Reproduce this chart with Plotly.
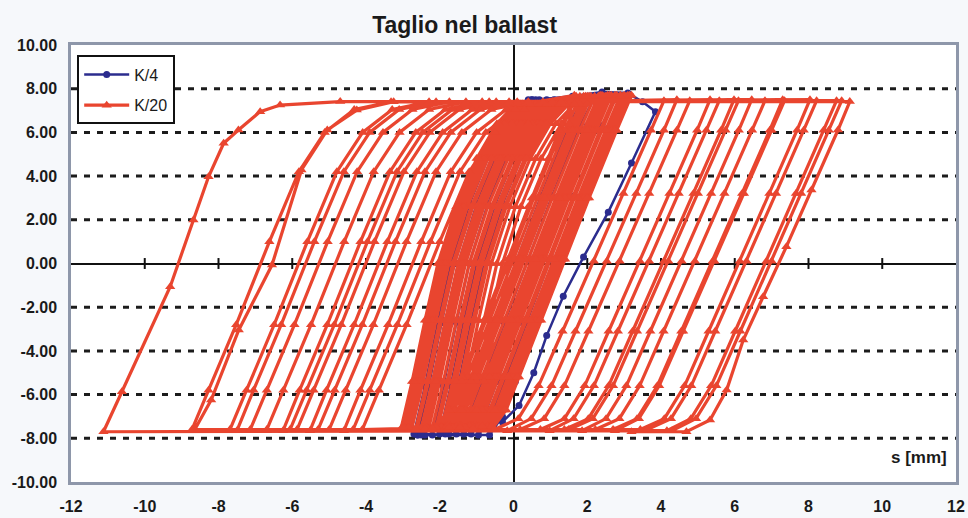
import plotly.graph_objects as go

# ---------------------------------------------------------------------------
# Shear force F [kN] vs. displacement s [mm] in the ballast layer
# Two test series: K/4 and K/20 (continuous load histories, cycle by cycle)
# ---------------------------------------------------------------------------

# K/4 series
k4_s = [
    -1.8, -1.5, -1.15, -0.8, -0.3, 0.25, 0.8, 1.3, 2.0, 1.6, 0.85, 0.2, -0.45, -1.05, -1.4, -1.75,
    -2.2, -1.9, -1.55, -1.2, -0.7, -0.15, 0.4, 0.9, 2.4, 2.0, 1.25, 0.6, -0.05, -0.65, -1.0, -1.35,
    -2.6, -2.3, -1.95, -1.6, -1.1, -0.55, 0.0, 0.5, 1.9, 1.5, 0.75, 0.1, -0.55, -1.15, -1.5, -1.85,
    -2.0, -1.7, -1.35, -1.0, -0.5, 0.05, 0.6, 1.1, 2.8, 2.4, 1.65, 1.0, 0.35, -0.25, -0.6, -0.95,
    -2.6, -2.3, -1.95, -1.6, -1.1, -0.55, 0.0, 0.5, 2.6, 2.2, 1.45, 0.8, 0.15, -0.45, -0.8, -1.15,
    -2.4, -2.1, -1.75, -1.4, -0.9, -0.35, 0.2, 0.7, 3.1, 2.7, 1.95, 1.3, 0.65, 0.05, -0.3, -0.65,
    -2.7, -2.4, -2.05, -1.7, -1.2, -0.65, -0.1, 0.4, 2.2, 1.8, 1.05, 0.4, -0.25, -0.85, -1.2, -1.55,
    -2.5, -2.2, -1.85, -1.5, -1.0, -0.45, 0.1, 0.6, 1.6, 2.4, 3.1, 3.5, 3.85,
    3.2, 2.57, 1.9, 1.35, 0.9, 0.55, 0.15, -0.3,
]
k4_f = [
    -7.6, -5.6, -2.7, 0.0, 2.7, 5.0, 6.7, 7.5, 7.65, 6.3, 3.1, 0.2, -2.7, -5.4, -7.0, -7.8,
    -7.85, -5.6, -2.7, 0.0, 2.7, 5.0, 6.7, 7.5, 7.65, 6.3, 3.1, 0.2, -2.7, -5.4, -7.0, -7.8,
    -7.85, -5.6, -2.7, 0.0, 2.7, 5.0, 6.7, 7.5, 7.6, 6.3, 3.1, 0.2, -2.7, -5.4, -7.0, -7.8,
    -7.8, -5.6, -2.7, 0.0, 2.7, 5.0, 6.7, 7.5, 7.65, 6.3, 3.1, 0.2, -2.7, -5.4, -7.0, -7.85,
    -7.85, -5.6, -2.7, 0.0, 2.7, 5.0, 6.7, 7.5, 7.6, 6.3, 3.1, 0.2, -2.7, -5.4, -7.0, -7.8,
    -7.85, -5.6, -2.7, 0.0, 2.7, 5.0, 6.7, 7.5, 7.65, 6.3, 3.1, 0.2, -2.7, -5.4, -7.0, -7.85,
    -7.8, -5.6, -2.7, 0.0, 2.7, 5.0, 6.7, 7.5, 7.6, 6.3, 3.1, 0.2, -2.7, -5.4, -7.0, -7.8,
    -7.85, -5.6, -2.7, 0.0, 2.7, 5.0, 6.7, 7.5, 7.65, 7.85, 7.8, 7.4, 6.95,
    4.6, 2.35, 0.3, -1.5, -3.3, -5.0, -6.5, -7.25,
]

# K/20 series - small central cycles
k20_core_s = [
    -1.6, -1.3, -0.95, -0.6, -0.1, 0.45, 1.0, 1.5, 1.9, 1.5, 0.75, 0.1, -0.55, -1.15, -1.5, -1.85,
    -2.05, -1.75, -1.4, -1.05, -0.55, 0.0, 0.55, 1.05, 2.35, 1.95, 1.2, 0.55, -0.1, -0.7, -1.05, -1.4,
    -2.3, -2.0, -1.65, -1.3, -0.8, -0.25, 0.3, 0.8, 1.7, 1.3, 0.55, -0.1, -0.75, -1.35, -1.7, -2.05,
    -2.45, -2.15, -1.8, -1.45, -0.95, -0.4, 0.15, 0.65, 2.6, 2.2, 1.45, 0.8, 0.15, -0.45, -0.8, -1.15,
    -1.9, -1.6, -1.25, -0.9, -0.4, 0.15, 0.7, 1.2, 2.2, 1.8, 1.05, 0.4, -0.25, -0.85, -1.2, -1.55,
    -2.75, -2.45, -2.1, -1.75, -1.25, -0.7, -0.15, 0.35, 2.9, 2.5, 1.75, 1.1, 0.45, -0.15, -0.5, -0.85,
    -2.2, -1.9, -1.55, -1.2, -0.7, -0.15, 0.4, 0.9, 1.8, 1.4, 0.65, 0.0, -0.65, -1.25, -1.6, -1.95,
    -2.9, -2.6, -2.25, -1.9, -1.4, -0.85, -0.3, 0.2, 3.1, 2.7, 1.95, 1.3, 0.65, 0.05, -0.3, -0.65,
    -2.6, -2.3, -1.95, -1.6, -1.1, -0.55, 0.0, 0.5, 2.45, 2.05, 1.3, 0.65, 0.0, -0.6, -0.95, -1.3,
    -1.75, -1.45, -1.1, -0.75, -0.25, 0.3, 0.85, 1.35, 2.75, 2.35, 1.6, 0.95, 0.3, -0.3, -0.65, -1.0,
    -3.05, -2.75, -2.4, -2.05, -1.55, -1.0, -0.45, 0.05, 2.05, 1.65, 0.9, 0.25, -0.4, -1.0, -1.35, -1.7,
    -2.35, -2.05, -1.7, -1.35, -0.85, -0.3, 0.25, 0.75, 3.2, 2.8, 2.05, 1.4, 0.75, 0.15, -0.2, -0.55,
    -1.95, -1.65, -1.3, -0.95, -0.45, 0.1, 0.65, 1.15, 2.5, 2.1, 1.35, 0.7, 0.05, -0.55, -0.9, -1.25,
    -2.8, -2.5, -2.15, -1.8, -1.3, -0.75, -0.2, 0.3, 1.65, 1.25, 0.5, -0.15, -0.8, -1.4, -1.75, -2.1,
    -2.5, -2.2, -1.85, -1.5, -1.0, -0.45, 0.1, 0.6, 2.95, 2.55, 1.8, 1.15, 0.5, -0.1, -0.45, -0.8,
    -2.1, -1.8, -1.45, -1.1, -0.6, -0.05, 0.5, 1.0, 2.65, 2.25, 1.5, 0.85, 0.2, -0.4, -0.75, -1.1,
    -2.65, -2.35, -2.0, -1.65, -1.15, -0.6, -0.05, 0.45, 2.3, 1.9, 1.15, 0.5, -0.15, -0.75, -1.1, -1.45,
    -1.85, -1.55, -1.2, -0.85, -0.35, 0.2, 0.75, 1.25, 3.0, 2.6, 1.85, 1.2, 0.55, -0.05, -0.4, -0.75,
    -2.95, -2.65, -2.3, -1.95, -1.45, -0.9, -0.35, 0.15, 1.95, 1.55, 0.8, 0.15, -0.5, -1.1, -1.45, -1.8,
    -2.4, -2.1, -1.75, -1.4, -0.9, -0.35, 0.2, 0.7, 2.8, 2.4, 1.65, 1.0, 0.35, -0.25, -0.6, -0.95,
    -1.7, -1.4, -1.05, -0.7, -0.2, 0.35, 0.9, 1.4, 2.1, 1.7, 0.95, 0.3, -0.35, -0.95, -1.3, -1.65,
    -2.85, -2.55, -2.2, -1.85, -1.35, -0.8, -0.25, 0.25, 2.55, 2.15, 1.4, 0.75, 0.1, -0.5, -0.85, -1.2,
    -2.2, -1.9, -1.55, -1.2, -0.7, -0.15, 0.4, 0.9, 3.05, 2.65, 1.9, 1.25, 0.6, 0.0, -0.35, -0.7,
    -3.0, -2.7, -2.35, -2.0, -1.5, -0.95, -0.4, 0.1, 2.4, 2.0, 1.25, 0.6, -0.05, -0.65, -1.0, -1.35,
    -1.3, -1.0, -0.65, -0.3, 0.2, 0.75, 1.3, 1.8, 2.9, 2.5, 1.75, 1.1, 0.45, -0.15, -0.5, -0.85,
    -1.1, -0.8, -0.45, -0.1, 0.4, 0.95, 1.5, 2.0, 3.15, 2.75, 2.0, 1.35, 0.7, 0.1, -0.25, -0.6,
    -1.45, -1.15, -0.8, -0.45, 0.05, 0.6, 1.15, 1.65, 2.0, 1.6, 0.85, 0.2, -0.45, -1.05, -1.4, -1.75,
]
k20_core_f = [
    -7.5, -5.4, -2.6, 0.0, 2.6, 4.8, 6.4, 7.3, 7.65, 6.1, 3.0, 0.2, -2.6, -5.2, -6.7, -7.45,
    -7.5, -5.4, -2.6, 0.0, 2.6, 4.8, 6.4, 7.3, 7.7, 6.1, 3.0, 0.2, -2.6, -5.2, -6.7, -7.45,
    -7.55, -5.4, -2.6, 0.0, 2.6, 4.8, 6.4, 7.3, 7.65, 6.1, 3.0, 0.2, -2.6, -5.2, -6.7, -7.5,
    -7.5, -5.4, -2.6, 0.0, 2.6, 4.8, 6.4, 7.3, 7.7, 6.1, 3.0, 0.2, -2.6, -5.2, -6.7, -7.45,
    -7.55, -5.4, -2.6, 0.0, 2.6, 4.8, 6.4, 7.3, 7.65, 6.1, 3.0, 0.2, -2.6, -5.2, -6.7, -7.45,
    -7.5, -5.4, -2.6, 0.0, 2.6, 4.8, 6.4, 7.3, 7.7, 6.1, 3.0, 0.2, -2.6, -5.2, -6.7, -7.5,
    -7.5, -5.4, -2.6, 0.0, 2.6, 4.8, 6.4, 7.3, 7.65, 6.1, 3.0, 0.2, -2.6, -5.2, -6.7, -7.45,
    -7.55, -5.4, -2.6, 0.0, 2.6, 4.8, 6.4, 7.3, 7.7, 6.1, 3.0, 0.2, -2.6, -5.2, -6.7, -7.45,
    -7.5, -5.4, -2.6, 0.0, 2.6, 4.8, 6.4, 7.3, 7.65, 6.1, 3.0, 0.2, -2.6, -5.2, -6.7, -7.5,
    -7.5, -5.4, -2.6, 0.0, 2.6, 4.8, 6.4, 7.3, 7.7, 6.1, 3.0, 0.2, -2.6, -5.2, -6.7, -7.45,
    -7.55, -5.4, -2.6, 0.0, 2.6, 4.8, 6.4, 7.3, 7.65, 6.1, 3.0, 0.2, -2.6, -5.2, -6.7, -7.45,
    -7.5, -5.4, -2.6, 0.0, 2.6, 4.8, 6.4, 7.3, 7.7, 6.1, 3.0, 0.2, -2.6, -5.2, -6.7, -7.5,
    -7.5, -5.4, -2.6, 0.0, 2.6, 4.8, 6.4, 7.3, 7.65, 6.1, 3.0, 0.2, -2.6, -5.2, -6.7, -7.45,
    -7.55, -5.4, -2.6, 0.0, 2.6, 4.8, 6.4, 7.3, 7.7, 6.1, 3.0, 0.2, -2.6, -5.2, -6.7, -7.45,
    -7.5, -5.4, -2.6, 0.0, 2.6, 4.8, 6.4, 7.3, 7.65, 6.1, 3.0, 0.2, -2.6, -5.2, -6.7, -7.5,
    -7.5, -5.4, -2.6, 0.0, 2.6, 4.8, 6.4, 7.3, 7.7, 6.1, 3.0, 0.2, -2.6, -5.2, -6.7, -7.45,
    -7.55, -5.4, -2.6, 0.0, 2.6, 4.8, 6.4, 7.3, 7.65, 6.1, 3.0, 0.2, -2.6, -5.2, -6.7, -7.45,
    -7.5, -5.4, -2.6, 0.0, 2.6, 4.8, 6.4, 7.3, 7.7, 6.1, 3.0, 0.2, -2.6, -5.2, -6.7, -7.5,
    -7.5, -5.4, -2.6, 0.0, 2.6, 4.8, 6.4, 7.3, 7.65, 6.1, 3.0, 0.2, -2.6, -5.2, -6.7, -7.45,
    -7.55, -5.4, -2.6, 0.0, 2.6, 4.8, 6.4, 7.3, 7.7, 6.1, 3.0, 0.2, -2.6, -5.2, -6.7, -7.45,
    -7.5, -5.4, -2.6, 0.0, 2.6, 4.8, 6.4, 7.3, 7.65, 6.1, 3.0, 0.2, -2.6, -5.2, -6.7, -7.5,
    -7.5, -5.4, -2.6, 0.0, 2.6, 4.8, 6.4, 7.3, 7.7, 6.1, 3.0, 0.2, -2.6, -5.2, -6.7, -7.45,
    -7.55, -5.4, -2.6, 0.0, 2.6, 4.8, 6.4, 7.3, 7.65, 6.1, 3.0, 0.2, -2.6, -5.2, -6.7, -7.45,
    -7.5, -5.4, -2.6, 0.0, 2.6, 4.8, 6.4, 7.3, 7.7, 6.1, 3.0, 0.2, -2.6, -5.2, -6.7, -7.5,
    -7.5, -5.4, -2.6, 0.0, 2.6, 4.8, 6.4, 7.3, 7.65, 6.1, 3.0, 0.2, -2.6, -5.2, -6.7, -7.45,
    -7.55, -5.4, -2.6, 0.0, 2.6, 4.8, 6.4, 7.3, 7.7, 6.1, 3.0, 0.2, -2.6, -5.2, -6.7, -7.45,
    -7.5, -5.4, -2.6, 0.0, 2.6, 4.8, 6.4, 7.3, 7.65, 6.1, 3.0, 0.2, -2.6, -5.2, -6.7, -7.5,
]

# K/20 series - growing cycles
k20_mid_s = [
    -4.1, -3.65, -2.9, -2.0, -1.2, -0.5, 0.3, 1.3, 4.08, 3.73, 2.98, 2.18, 1.33, 0.68, 0.13, -0.52,
    -4.35, -3.9, -3.15, -2.25, -1.45, -0.75, 0.05, 1.05, 4.43, 4.08, 3.33, 2.53, 1.68, 1.03, 0.48, -0.17,
    -4.6, -4.15, -3.4, -2.5, -1.7, -1.0, -0.2, 0.8, 4.78, 4.43, 3.68, 2.88, 2.03, 1.38, 0.83, 0.18,
    -5.0, -4.55, -3.8, -2.9, -2.1, -1.4, -0.6, 0.4, 5.33, 4.98, 4.23, 3.43, 2.58, 1.93, 1.38, 0.73,
    -5.3, -4.85, -4.1, -3.2, -2.4, -1.7, -0.9, 0.1, 5.58, 5.23, 4.48, 3.68, 2.83, 2.18, 1.63, 0.98,
    -5.52, -5.07, -4.32, -3.42, -2.62, -1.92, -1.12, -0.12, 5.98, 5.63, 4.88, 4.08, 3.23, 2.58, 2.03, 1.38,
    -5.87, -5.42, -4.67, -3.77, -2.97, -2.27, -1.47, -0.47, 6.1, 5.75, 5.0, 4.2, 3.35, 2.7, 2.15, 1.5,
    -6.06, -5.61, -4.86, -3.96, -3.16, -2.46, -1.66, -0.66, 6.46, 6.11, 5.36, 4.56, 3.71, 3.06, 2.51, 1.86,
    -6.25, -5.8, -5.05, -4.15, -3.35, -2.65, -1.85, -0.85, 6.82, 6.47, 5.72, 4.92, 4.07, 3.42, 2.87, 2.22,
    -6.69, -6.24, -5.49, -4.59, -3.79, -3.09, -2.29, -1.29, 7.3, 6.95, 6.2, 5.4, 4.55, 3.9, 3.35, 2.7,
    -7.14, -6.69, -5.94, -5.04, -4.24, -3.54, -2.74, -1.74, 7.35, 7.0, 6.25, 5.45, 4.6, 3.95, 3.4, 2.75,
    -7.5, -7.05, -6.3, -5.4, -4.6, -3.9, -3.1, -2.1, 8.04, 7.69, 6.94, 6.14, 5.29, 4.64, 4.09, 3.44,
    -7.69, -7.24, -6.49, -5.59, -4.79, -4.09, -3.29, -2.29, 8.22, 7.87, 7.12, 6.32, 5.47, 4.82, 4.27, 3.62,
    -8.65, -8.2, -7.45, -6.55, -5.75, -5.05, -4.25, -3.25, 8.76, 8.41, 7.66, 6.86, 6.01, 5.36, 4.81, 4.16,
    -8.72, -8.27, -7.52, -6.62, -5.82, -5.12, -4.32, -3.32, 8.9, 8.55, 7.8, 7.0, 6.15, 5.5, 4.95, 4.3,
]
k20_mid_f = [
    -7.6, -5.8, -2.8, 1.0, 4.2, 6.0, 7.05, 7.4, 7.45, 6.1, 3.2, 0.1, -3.1, -5.6, -7.1, -7.6,
    -7.6, -5.8, -2.8, 1.0, 4.2, 6.0, 7.05, 7.4, 7.5, 6.1, 3.2, 0.1, -3.1, -5.6, -7.1, -7.65,
    -7.65, -5.8, -2.8, 1.0, 4.2, 6.0, 7.05, 7.4, 7.45, 6.1, 3.2, 0.1, -3.1, -5.6, -7.1, -7.6,
    -7.6, -5.8, -2.8, 1.0, 4.2, 6.0, 7.05, 7.4, 7.5, 6.1, 3.2, 0.1, -3.1, -5.6, -7.1, -7.6,
    -7.6, -5.8, -2.8, 1.0, 4.2, 6.0, 7.05, 7.4, 7.45, 6.1, 3.2, 0.1, -3.1, -5.6, -7.1, -7.65,
    -7.65, -5.8, -2.8, 1.0, 4.2, 6.0, 7.05, 7.4, 7.5, 6.1, 3.2, 0.1, -3.1, -5.6, -7.1, -7.6,
    -7.6, -5.8, -2.8, 1.0, 4.2, 6.0, 7.05, 7.4, 7.45, 6.1, 3.2, 0.1, -3.1, -5.6, -7.1, -7.6,
    -7.6, -5.8, -2.8, 1.0, 4.2, 6.0, 7.05, 7.4, 7.5, 6.1, 3.2, 0.1, -3.1, -5.6, -7.1, -7.65,
    -7.65, -5.8, -2.8, 1.0, 4.2, 6.0, 7.05, 7.4, 7.45, 6.1, 3.2, 0.1, -3.1, -5.6, -7.1, -7.6,
    -7.6, -5.8, -2.8, 1.0, 4.2, 6.0, 7.05, 7.4, 7.5, 6.1, 3.2, 0.1, -3.1, -5.6, -7.1, -7.6,
    -7.6, -5.8, -2.8, 1.0, 4.2, 6.0, 7.05, 7.4, 7.45, 6.1, 3.2, 0.1, -3.1, -5.6, -7.1, -7.65,
    -7.65, -5.8, -2.8, 1.0, 4.2, 6.0, 7.05, 7.4, 7.5, 6.1, 3.2, 0.1, -3.1, -5.6, -7.1, -7.6,
    -7.6, -5.8, -2.8, 1.0, 4.2, 6.0, 7.05, 7.4, 7.45, 6.1, 3.2, 0.1, -3.1, -5.6, -7.1, -7.6,
    -7.62, -6.25, -3.04, -0.07, 4.28, 6.11, 7.02, 7.4, 7.45, 6.1, 3.2, 0.1, -3.1, -5.6, -7.1, -7.65,
    -7.6, -5.8, -2.8, 1.0, 4.2, 6.0, 7.05, 7.4, 7.45, 6.1, 3.2, 0.1, -3.1, -5.6, -7.1, -7.65,
]

# K/20 series - largest cycle
k20_outer_s = [-11.12, -10.62, -9.31, -8.68, -8.27, -7.86, -7.46, -6.87, -6.33, -4.7,
               9.12, 8.8, 8.08, 7.4, 6.77, 6.23, 5.78, 5.33, 4.69, 3.2]
k20_outer_f = [-7.7, -5.87, -1.06, 1.99, 3.97, 5.5, 6.11, 6.95, 7.25, 7.41,
               7.41, 6.11, 3.36, 0.77, -1.52, -3.5, -5.79, -7.16, -7.7, -7.7]

k20_s = k20_core_s + k20_mid_s + k20_outer_s
k20_f = k20_core_f + k20_mid_f + k20_outer_f

# Axes
x_ticks = list(range(-12, 13, 2))
y_ticks = list(range(-10, 11, 2))
grid_levels = [-8, -6, -4, -2, 2, 4, 6, 8]

RED = "#e9452f"
BLUE = "#2b2c8e"
FONT = "Liberation Sans, Arial, sans-serif"

fig = go.Figure()
fig.add_trace(go.Scatter(
    x=k4_s, y=k4_f, mode="lines+markers", name="K/4", legendgroup="k4",
    line=dict(color=BLUE, width=2.5),
    marker=dict(symbol="circle", size=7, color=BLUE),
))
fig.add_trace(go.Scatter(
    x=k20_s, y=k20_f, mode="lines+markers", name="K/20", legendgroup="k20",
    line=dict(color=RED, width=3.2),
    marker=dict(symbol="triangle-up", size=9, color=RED),
))

# dashed horizontal grid
for g in grid_levels:
    fig.add_shape(type="line", xref="paper", x0=0, x1=1, yref="y", y0=g, y1=g,
                  line=dict(color="#1c1c1c", width=3, dash="6px,7px"), layer="below")

# cross ticks on the zero axes
for v in x_ticks:
    if v not in (0, -12, 12):
        fig.add_shape(type="line", xref="x", yref="y", x0=v, x1=v, y0=-0.25, y1=0.25,
                      line=dict(color="#111", width=2), layer="below")
for v in y_ticks:
    if v not in (0, -10, 10):
        fig.add_shape(type="line", xref="x", yref="y", x0=-0.15, x1=0.15, y0=v, y1=v,
                      line=dict(color="#111", width=2), layer="below")

tick_font = dict(family=FONT, size=16, color="#1a1a1a", weight="bold")

fig.update_layout(
    width=968, height=518,
    margin=dict(l=71, r=12, t=45, b=36),
    paper_bgcolor="#f6f8fb",
    plot_bgcolor="white",
    font=dict(family=FONT, color="#1a1a1a"),
    title=dict(text="Taglio nel ballast", x=0.48, xanchor="center", y=0.952, yanchor="middle",
               font=dict(family=FONT, size=23, color="#1a1a1a", weight="bold")),
    xaxis=dict(
        range=[-12, 12], tickvals=x_ticks, ticktext=[str(v) for v in x_ticks],
        showgrid=False, zeroline=True, zerolinecolor="#111", zerolinewidth=2,
        showline=True, mirror=True, linecolor="#8e97aa", linewidth=2.5,
        ticks="", tickfont=tick_font, ticklabelstandoff=8, automargin=False,
    ),
    yaxis=dict(
        range=[-10, 10], tickvals=y_ticks, ticktext=[f"{v:.2f}" for v in y_ticks],
        showgrid=False, zeroline=True, zerolinecolor="#111", zerolinewidth=2,
        showline=True, mirror=True, linecolor="#8e97aa", linewidth=2.5,
        ticks="", tickfont=tick_font, ticklabelstandoff=8, automargin=False,
    ),
    legend=dict(
        x=0.007, y=0.976, xanchor="left", yanchor="top",
        bgcolor="white", bordercolor="#111", borderwidth=2,
        font=dict(family=FONT, size=16, color="#1a1a1a"),
        tracegroupgap=7, itemwidth=45,
    ),
    annotations=[dict(
        text="s [mm]", xref="paper", yref="paper", x=0.992, y=0.057,
        xanchor="right", yanchor="middle", showarrow=False,
        font=dict(family=FONT, size=17, color="#1a1a1a", weight="bold"),
    )],
)

fig.write_html("out.html")
